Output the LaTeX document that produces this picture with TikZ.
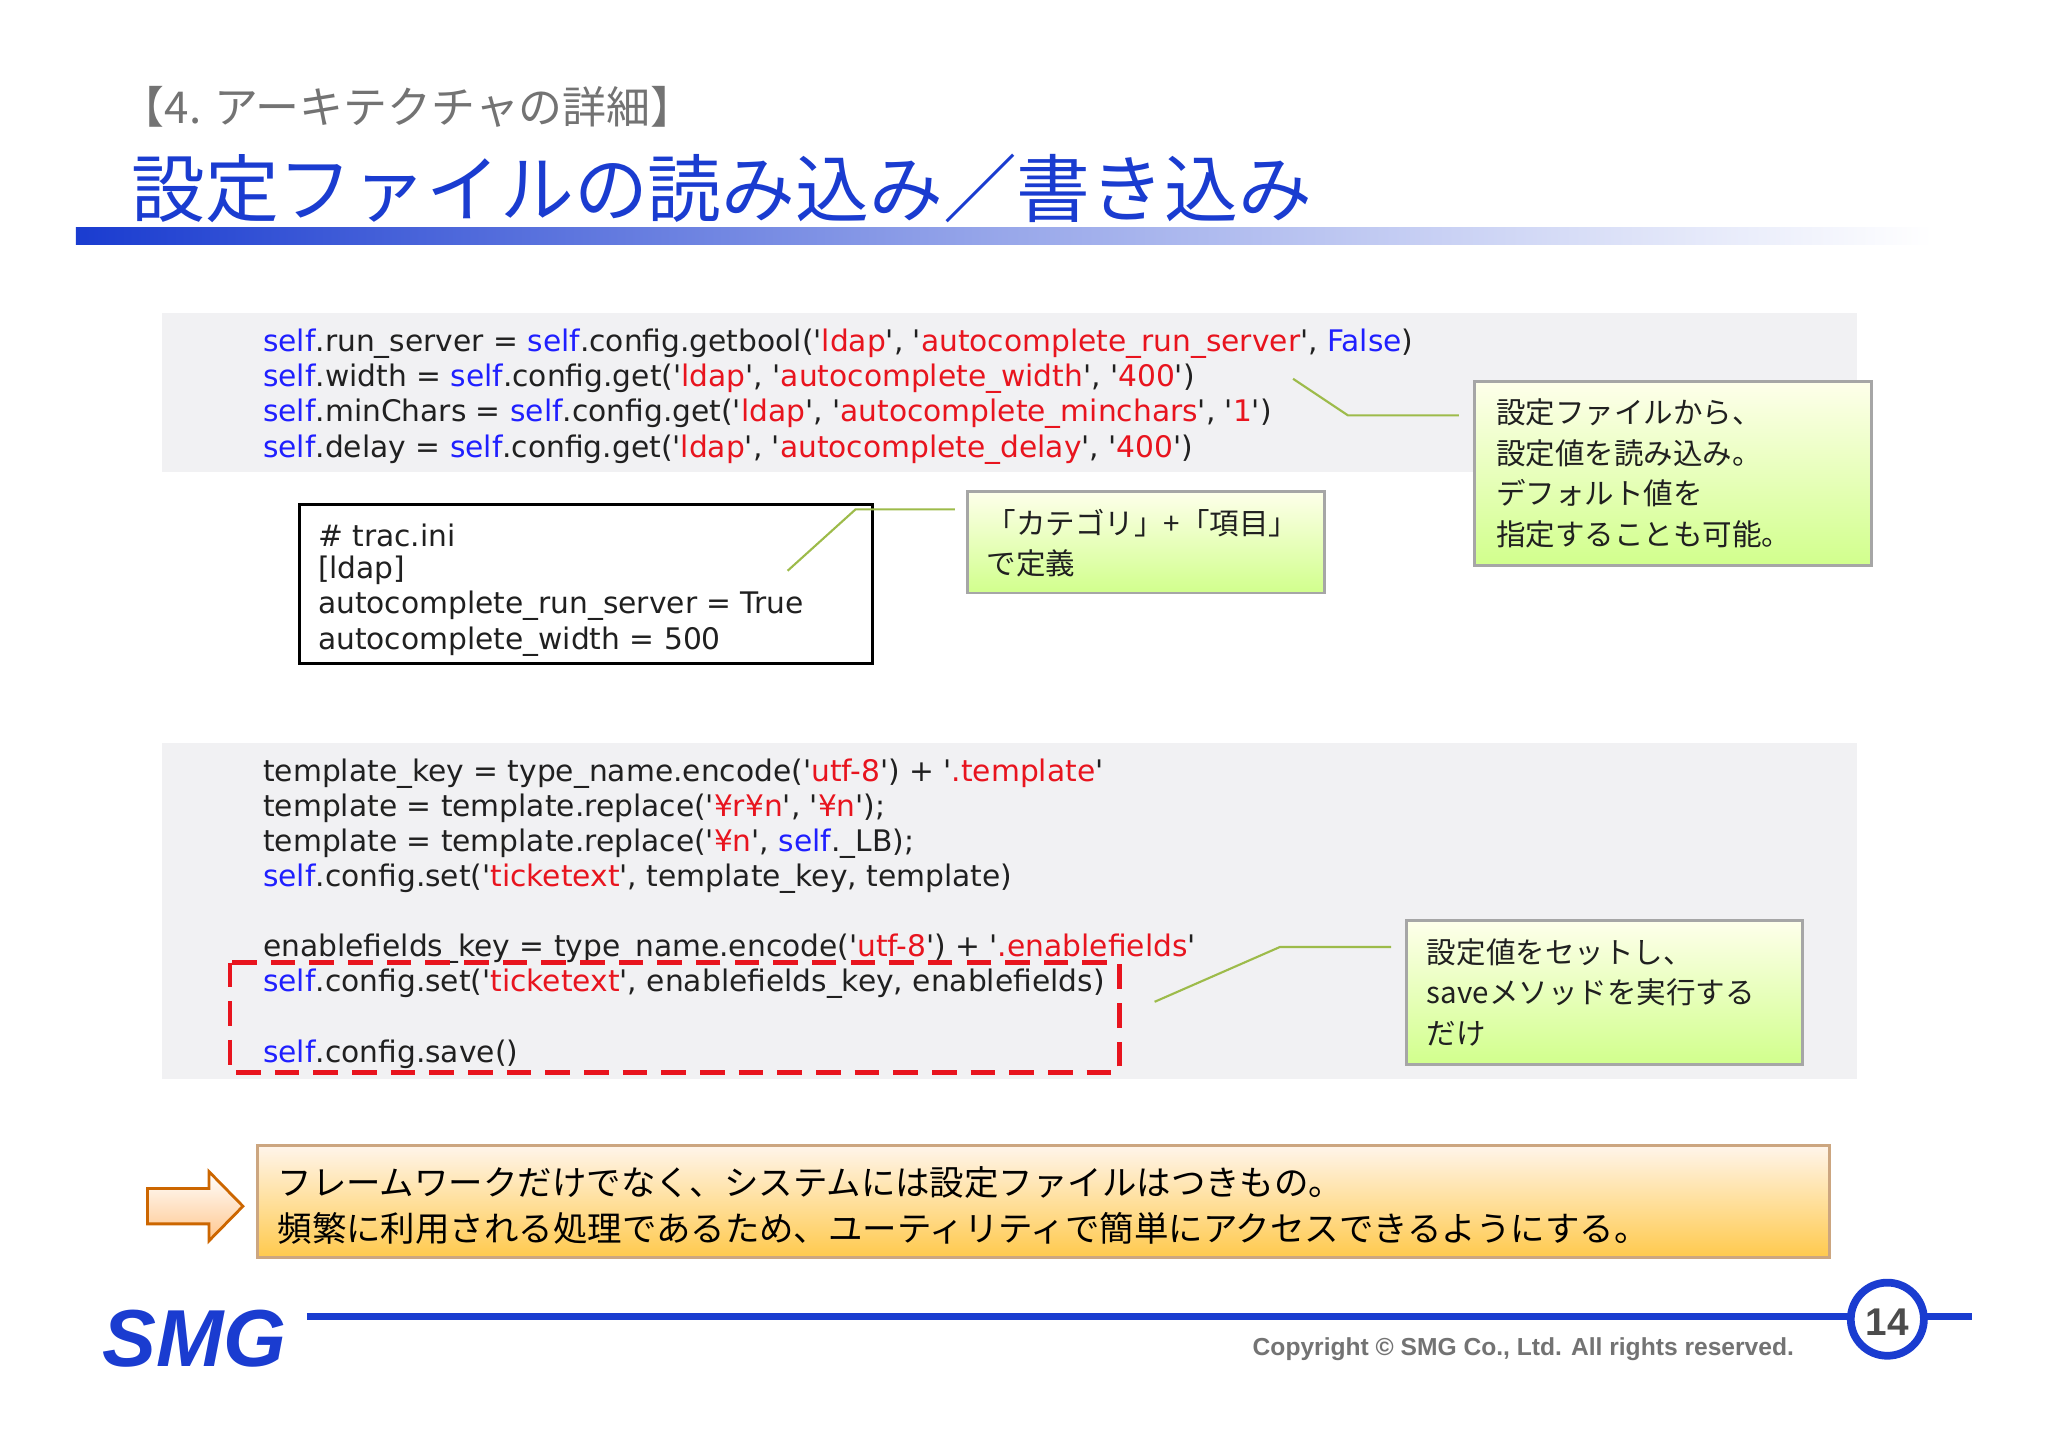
\documentclass[tikz,border=0pt]{standalone}
\usepackage{fontspec}
\newfontfamily\codefont{DejaVu Sans}
\newfontfamily\jpfont{Noto Sans CJK JP}
\newfontfamily\lsans{Liberation Sans}
\definecolor{kwblue}{HTML}{1F1FFF}
\definecolor{strred}{HTML}{E8141E}
\definecolor{titleblue}{HTML}{1A3CD0}
\definecolor{codegray}{HTML}{F1F1F3}
\definecolor{callline}{HTML}{9DBB4A}
\definecolor{txt}{HTML}{202020}
\newcommand\kw[1]{\textcolor{kwblue}{#1}}
\newcommand\st[1]{\textcolor{strred}{#1}}
\tikzset{
 codeline/.style={anchor=west,inner sep=0pt,font=\codefont\fontsize{8.45}{10}\selectfont,text=txt},
 callout/.style={draw=black!35,line width=0.8pt,top color=green!5!yellow!8,bottom color=green!40!yellow!45},
 calltext/.style={anchor=north west,align=left,inner sep=0pt,font=\jpfont\fontsize{8.4}{11.5}\selectfont,text=txt},
 conn/.style={draw=callline,line width=0.6pt},
}
\begin{document}
\begin{tikzpicture}[x=0.01306cm,y=-0.01306cm]
\useasboundingbox[fill=white] (0,0) rectangle (1568,1109);
% titles
\node[anchor=west,inner sep=0pt,text=black!55,font=\jpfont\fontsize{12.5}{15}\selectfont] (sub) at (92,82) {【4. アーキテクチャの詳細】};
\node[anchor=west,inner sep=0pt,text=titleblue,font=\jpfont\fontsize{21}{24}\selectfont] (title) at (100,144) {設定ファイルの読み込み／書き込み};
\shade[left color=titleblue,right color=white,middle color=titleblue!45] (58,174) rectangle (1480,187);
% code block 1
\fill[codegray] (124,240) rectangle (1422,361);
\node[codeline] (c1) at (201,263) {\kw{self}.run\_server = \kw{self}.config.getbool('\st{ldap}', '\st{autocomplete\_run\_server}', \kw{False})};
\node[codeline] (c2) at (201,290) {\kw{self}.width = \kw{self}.config.get('\st{ldap}', '\st{autocomplete\_width}', '\st{400}')};
\node[codeline] (c3) at (201,317) {\kw{self}.minChars = \kw{self}.config.get('\st{ldap}', '\st{autocomplete\_minchars}', '\st{1}')};
\node[codeline] (c4) at (201,344) {\kw{self}.delay = \kw{self}.config.get('\st{ldap}', '\st{autocomplete\_delay}', '\st{400}')};
% trac.ini
\draw[black,line width=0.9pt] (229,386) rectangle (668,508);
\node[codeline] (t1) at (243,410) {\# trac.ini};
\node[codeline] (t2) at (243,437) {[ldap]};
\node[codeline] (t3) at (243,464) {autocomplete\_run\_server = True};
\node[codeline] (t4) at (243,491) {autocomplete\_width = 500};
% callouts
\draw[callout] (1129,292) rectangle (1433,433);
\node[calltext] (ca) at (1145,305) {設定ファイルから、\\設定値を読み込み。\\デフォルト値を\\指定することも可能。};
\draw[callout] (741,376) rectangle (1014,454);
\node[calltext] (cb) at (755,389) {「カテゴリ」+「項目」\\で定義};
\draw[conn] (1117,318) -- (1032,318) -- (990,290);
\draw[conn] (731,390) -- (655,390) -- (603,437);
% code block 2
\fill[codegray] (124,569) rectangle (1422,826);
\node[codeline] (d1) at (201,592) {template\_key = type\_name.encode('\st{utf-8}') + '\st{.template}'};
\node[codeline] (d2) at (201,619) {template = template.replace('\st{¥r¥n}', '\st{¥n}');};
\node[codeline] (d3) at (201,646) {template = template.replace('\st{¥n}', \kw{self}.\_LB);};
\node[codeline] (d4) at (201,673) {\kw{self}.config.set('\st{ticketext}', template\_key, template)};
\node[codeline] (d5) at (201,726) {enablefields\_key = type\_name.encode('\st{utf-8}') + '\st{.enablefields}'};
\node[codeline] (d6) at (201,753) {\kw{self}.config.set('\st{ticketext}', enablefields\_key, enablefields)};
\node[codeline] (d7) at (201,807) {\kw{self}.config.save()};
\draw[strred,line width=1.3pt,dash pattern=on 7pt off 4pt] (176,737) rectangle (857,821);
\draw[callout] (1077,705) rectangle (1380,815);
\node[calltext] (cc) at (1092,718) {設定値をセットし、\\saveメソッドを実行する\\だけ};
\draw[conn] (1065,725) -- (980,725) -- (884,767);
% bottom message
\draw[draw=orange!60!black!50,line width=0.8pt,top color=orange!8,bottom color=orange!60!yellow!70] (197,877) rectangle (1401,963);
\node[anchor=west,inner sep=0pt,align=left,font=\jpfont\fontsize{9.8}{13.3}\selectfont,text=black] (msg) at (212,923) {フレームワークだけでなく、システムには設定ファイルはつきもの。\\頻繁に利用される処理であるため、ユーティリティで簡単にアクセスできるようにする。};
\draw[draw=orange!80!black,line width=0.8pt,top color=white,bottom color=orange!45] (113,910) -- (160,910) -- (160,897) -- (186,923.5) -- (160,950) -- (160,937) -- (113,937) -- cycle;
% footer
\draw[titleblue,line width=2.2pt] (235,1008) -- (1510,1008);
\draw[titleblue,line width=2.2pt,fill=white] (1445,1010) circle (28);
\node[font=\lsans\bfseries\fontsize{11}{13}\selectfont,text=black!70] (pg) at (1445,1012) {14};
\node[anchor=east,inner sep=0pt,font=\lsans\bfseries\fontsize{7}{9}\selectfont,text=black!55] (copy) at (1374,1033) {Copyright © SMG Co., Ltd. All rights reserved.};
\node[inner sep=0pt,font=\lsans\bfseries\itshape\fontsize{23}{26}\selectfont,text=titleblue] (logo) at (149,1025) {SMG};
\end{tikzpicture}
\end{document}
